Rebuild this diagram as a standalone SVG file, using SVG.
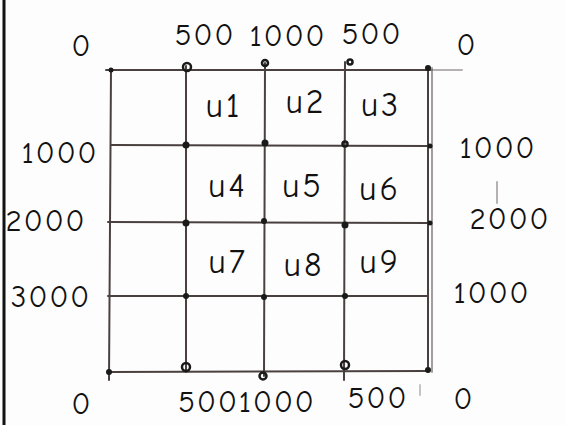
<svg xmlns="http://www.w3.org/2000/svg" width="566" height="425" viewBox="0 0 566 425">
<style>
.g{stroke:#4a4040;stroke-width:2;fill:none;stroke-linecap:round}
.d{fill:#1a1a1a}
.o{fill:none;stroke:#1a1a1a;stroke-width:2.5}
text{font-family:"Comic Neue","Liberation Sans",sans-serif;fill:#111;font-size:31px;letter-spacing:2px}
.c{font-size:34px;letter-spacing:3px}
</style>
<rect width="566" height="425" fill="#fdfdfd"/>
<line x1="4" y1="0" x2="4" y2="425" stroke="#111" stroke-width="3"/>
<g id="connectors">
<line class="g" x1="106" y1="70" x2="430" y2="70"/>
<line class="g" x1="430" y1="70" x2="462" y2="70" stroke-opacity="0.4"/>
<line class="g" x1="111" y1="145" x2="430" y2="146"/>
<line class="g" x1="108" y1="222" x2="430" y2="223"/>
<line class="g" x1="108" y1="296" x2="428" y2="296"/>
<line class="g" x1="110" y1="372" x2="428" y2="371"/>
<line class="g" x1="111" y1="70" x2="109" y2="380"/>
<line class="g" x1="186" y1="66" x2="186" y2="372"/>
<line class="g" x1="265" y1="63" x2="264" y2="376"/>
<line class="g" x1="345" y1="62" x2="344" y2="380"/>
<line class="g" x1="428" y1="68" x2="428" y2="372"/>
<line class="g" x1="432" y1="68" x2="432" y2="372" stroke-opacity="0.5"/>
<line class="g" x1="497" y1="182" x2="497" y2="203" stroke-opacity="0.4"/>
<line class="g" x1="420" y1="385" x2="420" y2="395" stroke-opacity="0.3"/>
</g>
<g id="points">
<circle class="d" cx="111" cy="70" r="2.5"/>
<circle class="o" cx="187" cy="67" r="4"/>
<circle class="o" cx="265" cy="63" r="3"/>
<circle class="o" cx="350" cy="62" r="2.5"/>
<circle class="d" cx="428" cy="68" r="3"/>
<circle class="d" cx="186" cy="145" r="3.5"/>
<circle class="d" cx="265" cy="143" r="3.5"/>
<circle class="o" cx="345" cy="144" r="2.5"/>
<circle class="d" cx="430" cy="146" r="2.5"/>
<circle class="d" cx="186" cy="223" r="3.5"/>
<circle class="d" cx="264" cy="221" r="3"/>
<circle class="d" cx="345" cy="225" r="3.5"/>
<circle class="d" cx="430" cy="223" r="2.5"/>
<circle class="d" cx="186" cy="296" r="3"/>
<circle class="d" cx="264" cy="297" r="3"/>
<circle class="d" cx="345" cy="296" r="3"/>
<circle class="d" cx="109" cy="372" r="3"/>
<circle class="o" cx="186" cy="367" r="4"/>
<circle class="o" cx="263" cy="376" r="3.5"/>
<circle class="o" cx="345" cy="365" r="4"/>
<circle class="d" cx="428" cy="370" r="3"/>
</g>
<g id="labels-top">
<text x="82" y="56" text-anchor="middle">0</text>
<text x="205" y="45" text-anchor="middle">500</text>
<text x="288" y="46" text-anchor="middle">1000</text>
<text x="372" y="44" text-anchor="middle">500</text>
<text x="467" y="55" text-anchor="middle">0</text>
</g>
<g id="labels-left">
<text x="60" y="163" text-anchor="middle">1000</text>
<text x="46" y="231" text-anchor="middle">2000</text>
<text x="51" y="307" text-anchor="middle">3000</text>
</g>
<g id="labels-right">
<text x="498" y="158" text-anchor="middle">1000</text>
<text x="510" y="229" text-anchor="middle">2000</text>
<text x="492" y="303" text-anchor="middle">1000</text>
</g>
<g id="labels-bottom">
<text x="82" y="414" text-anchor="middle">0</text>
<text x="247" y="412" text-anchor="middle">5001000</text>
<text x="378" y="408" text-anchor="middle">500</text>
<text x="464" y="409" text-anchor="middle">0</text>
</g>
<g id="cells">
<text class="c" x="224" y="117" text-anchor="middle">u1</text>
<text class="c" x="306" y="113" text-anchor="middle">u2</text>
<text class="c" x="381" y="116" text-anchor="middle">u3</text>
<text class="c" x="228" y="197" text-anchor="middle">u4</text>
<text class="c" x="303" y="197" text-anchor="middle">u5</text>
<text class="c" x="380" y="200" text-anchor="middle">u6</text>
<text class="c" x="228" y="273" text-anchor="middle">u7</text>
<text class="c" x="304" y="276" text-anchor="middle">u8</text>
<text class="c" x="380" y="273" text-anchor="middle">u9</text>
</g>
</svg>
